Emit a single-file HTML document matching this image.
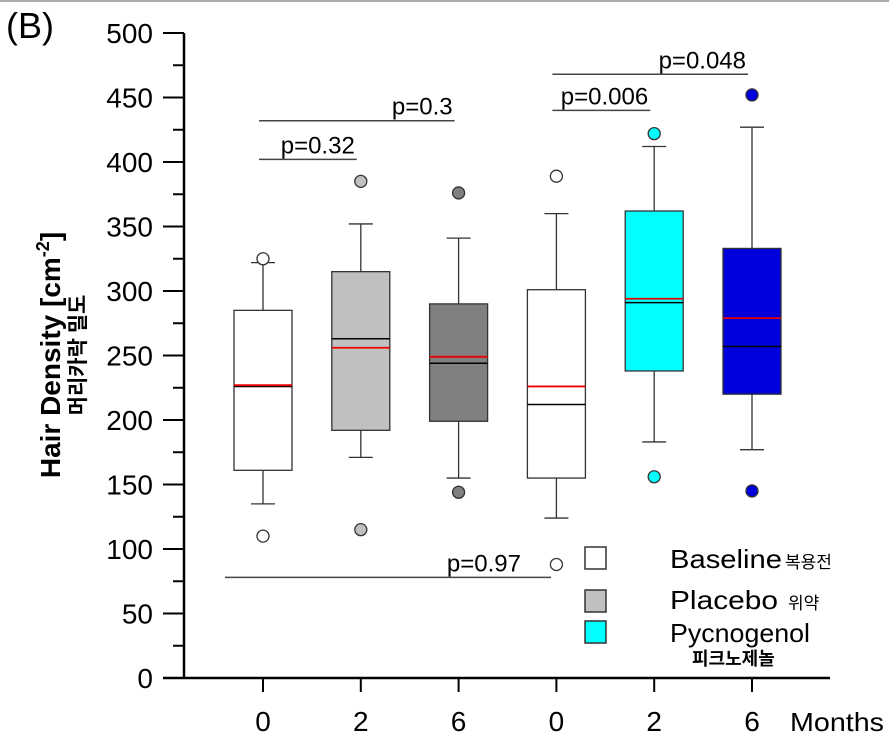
<!DOCTYPE html>
<html><head><meta charset="utf-8"><style>
body{margin:0;background:#fff}
svg{display:block;font-family:"Liberation Sans","Noto Sans CJK KR",sans-serif}
</style></head><body>
<svg id="chart" width="889" height="741" viewBox="0 0 889 741">
<line x1="0" y1="1" x2="889" y2="1" stroke="#aaa" stroke-width="2"/>
<text x="6" y="38" font-size="36">(B)</text>
<g transform="translate(60,355) rotate(-90)">
<text x="0" y="0" text-anchor="middle" font-size="28" font-weight="bold">Hair Density [cm<tspan font-size="18" dy="-11">-2</tspan><tspan dy="11">]</tspan></text>
<text x="0" y="25" text-anchor="middle" font-size="21" font-family="'Noto Sans CJK KR',sans-serif" font-weight="bold">머리카락 밀도</text>
</g>
<g id="axes"></g><g id="marks"></g>
<g>
<rect x="585" y="547" width="21" height="22" fill="#fff" stroke="#333" stroke-width="1.5"/>
<text x="670" y="568" font-size="26" textLength="112" lengthAdjust="spacingAndGlyphs">Baseline</text>
<text x="785" y="568" font-size="17" font-family="'Noto Sans CJK KR',sans-serif">복용전</text>
<rect x="585" y="590" width="21" height="22" fill="#c0c0c0" stroke="#333" stroke-width="1.5"/>
<text x="670" y="609" font-size="26" textLength="108" lengthAdjust="spacingAndGlyphs">Placebo</text>
<text x="788" y="609" font-size="17" font-family="'Noto Sans CJK KR',sans-serif">위약</text>
<rect x="585" y="621" width="21" height="22" fill="#00ffff" stroke="#333" stroke-width="1.5"/>
<text x="670" y="642" font-size="26" textLength="140" lengthAdjust="spacingAndGlyphs">Pycnogenol</text>
<text x="692" y="665" font-size="18" font-weight="bold" font-family="'Noto Sans CJK KR',sans-serif">피크노제놀</text>
</g>
<text x="790" y="731" font-size="26" textLength="94" lengthAdjust="spacingAndGlyphs">Months</text>
</svg>
<script>
const categories=["0","2","6","0","2","6"];
const fills=["#ffffff","#c0c0c0","#808080","#ffffff","#00ffff","#0000dd"];
const whiskerHigh=[322,352,341,360,412,427];
const q3=[285,315,290,301,362,333];
const medians=[226,263,244,212,291,257];
const means=[227,256,249,226,294,279];
const q1=[161,192,199,155,238,220];
const whiskerLow=[135,171,155,124,183,177];
const outHigh=[325,385,376,389,422,452];
const outLow=[110,115,144,88,156,145];
const yTicks=[0,50,100,150,200,250,300,350,400,450,500];
const sigLabels=["p=0.32","p=0.3","p=0.006","p=0.048","p=0.97"];
const sigFrom=[0,0,3,3,0];
const sigTo=[1,2,4,5,3];
const sigLevel=[402,432,440,468,78];

const NS="http://www.w3.org/2000/svg";
const y=v=>678-v*1.29;
const x=i=>263+i*97.8;
function mk(tag,attrs,parent){const e=document.createElementNS(NS,tag);for(const k in attrs)e.setAttribute(k,attrs[k]);parent.appendChild(e);return e;}
const axes=document.getElementById('axes'),marks=document.getElementById('marks');
let l=mk('line',{x1:184,y1:y(500),x2:184,y2:679,stroke:'#000','stroke-width':2.5},axes);


l=mk('line',{x1:163,y1:678,x2:830,y2:678,stroke:'#000','stroke-width':2.5},axes);


yTicks.forEach((t,i)=>{
 mk('line',{x1:163,y1:y(t),x2:184,y2:y(t),stroke:'#000','stroke-width':2},axes);
 if(i<yTicks.length-1) mk('line',{x1:173,y1:y(t+25),x2:184,y2:y(t+25),stroke:'#000','stroke-width':2},axes);
 const tx=mk('text',{x:153,y:y(t)+10,'text-anchor':'end','font-size':28},axes);tx.textContent=t;
 
 
});
categories.forEach((c,i)=>{
 mk('line',{x1:x(i),y1:678,x2:x(i),y2:692,stroke:'#000','stroke-width':2},axes);
 const tx=mk('text',{x:x(i),y:731,'text-anchor':'middle','font-size':28},axes);tx.textContent=c;
 
 
 const g=mk('g',{},marks);
 
 
 const s={stroke:'#333','stroke-width':1.3};
 mk('line',Object.assign({x1:x(i),y1:y(whiskerHigh[i]),x2:x(i),y2:y(q3[i])},s),g);
 mk('line',Object.assign({x1:x(i)-12,y1:y(whiskerHigh[i]),x2:x(i)+12,y2:y(whiskerHigh[i])},s),g);
 mk('line',Object.assign({x1:x(i),y1:y(whiskerLow[i]),x2:x(i),y2:y(q1[i])},s),g);
 mk('line',Object.assign({x1:x(i)-12,y1:y(whiskerLow[i]),x2:x(i)+12,y2:y(whiskerLow[i])},s),g);
 mk('rect',Object.assign({x:x(i)-29,y:y(q3[i]),width:58,height:y(q1[i])-y(q3[i]),fill:fills[i]},s),g);
 mk('line',{x1:x(i)-29,y1:y(medians[i]),x2:x(i)+29,y2:y(medians[i]),stroke:'#000','stroke-width':1.5},g);
 mk('line',{x1:x(i)-29,y1:y(means[i]),x2:x(i)+29,y2:y(means[i]),stroke:'#e00','stroke-width':1.8},g);
 [outHigh[i],outLow[i]].forEach(v=>mk('circle',{cx:x(i),cy:y(v),r:6,fill:fills[i],stroke:'#333','stroke-width':1.3},g));
});
sigLabels.forEach((s,i)=>{
 const x1=i===4?225:x(sigFrom[i])-4, x2=i===4?551:x(sigTo[i])-4;
 const g=mk('g',{},marks);
 
 
 mk('line',{x1:x1,y1:y(sigLevel[i]),x2:x2,y2:y(sigLevel[i]),stroke:'#444','stroke-width':1.5},g);
 const tx=mk('text',{x:i===4?521:x2-2,y:y(sigLevel[i])-6,'text-anchor':'end','font-size':24},g);tx.textContent=s;
});
</script>
</body></html>
